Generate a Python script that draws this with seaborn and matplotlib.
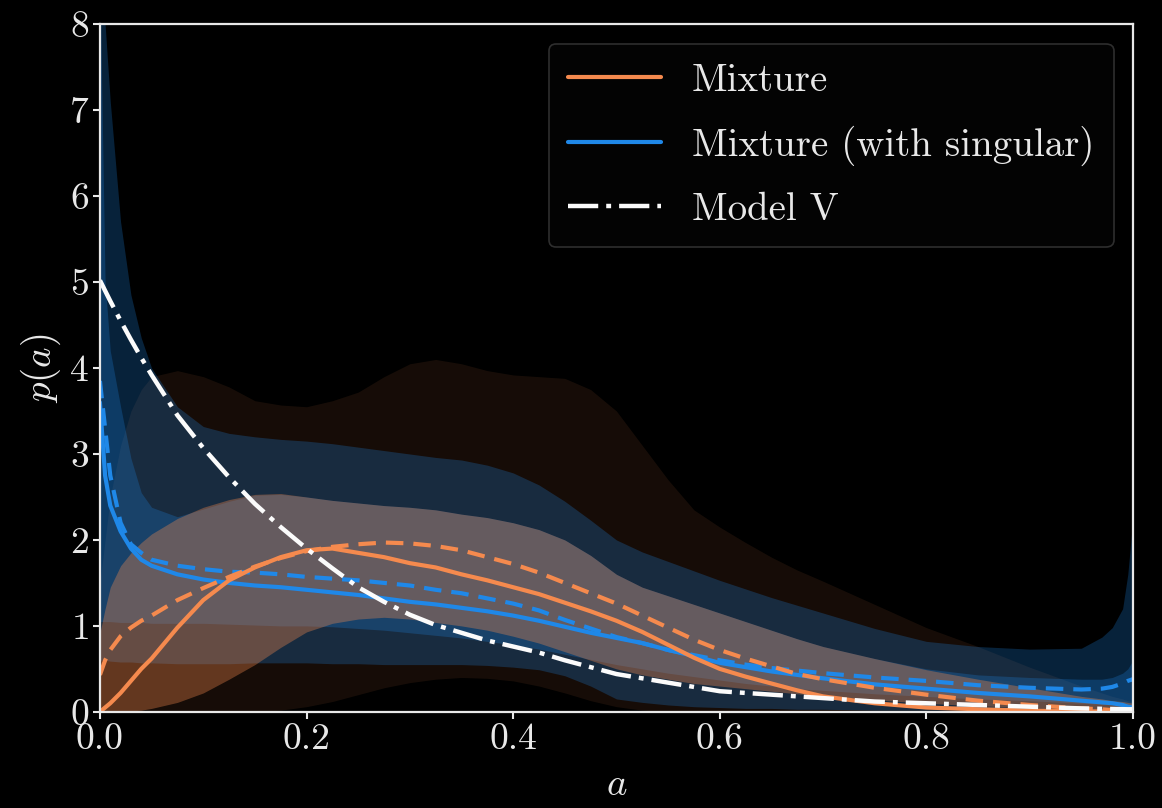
import numpy as np
import matplotlib
matplotlib.use("Agg")
import matplotlib.pyplot as plt
import seaborn as sns

# ---- spin-magnitude grid ----
a_grid = [0.0, 0.005, 0.01, 0.02, 0.03, 0.04, 0.05, 0.075, 0.1, 0.125, 0.15, 0.175,
          0.2, 0.225, 0.25, 0.275, 0.3, 0.325, 0.35, 0.375, 0.4, 0.425, 0.45, 0.475,
          0.5, 0.525, 0.55, 0.575, 0.6, 0.625, 0.65, 0.675, 0.7, 0.75, 0.8, 0.85,
          0.9, 0.95, 0.97, 0.98, 0.99, 0.995, 1.0]

# ---- Mixture ----
mix_median = [0.0, 0.05, 0.1, 0.22, 0.36, 0.5, 0.62, 0.98, 1.3, 1.53, 1.68, 1.8,
              1.88, 1.9, 1.85, 1.8, 1.73, 1.68, 1.6, 1.53, 1.45, 1.37, 1.27, 1.17,
              1.06, 0.93, 0.78, 0.63, 0.5, 0.41, 0.33, 0.25, 0.18, 0.1, 0.05, 0.03,
              0.015, 0.006, 0.004, 0.003, 0.002, 0.002, 0.001]
mix_mean = [0.43, 0.6, 0.72, 0.88, 0.98, 1.06, 1.12, 1.3, 1.44, 1.57, 1.69, 1.79,
            1.87, 1.92, 1.95, 1.97, 1.96, 1.93, 1.88, 1.8, 1.72, 1.62, 1.5, 1.38,
            1.26, 1.12, 0.98, 0.84, 0.72, 0.62, 0.53, 0.44, 0.38, 0.28, 0.2, 0.13,
            0.08, 0.04, 0.03, 0.02, 0.015, 0.012, 0.01]
mix_lo90 = [0.0, 0.0, 0.0, 0.0, 0.0, 0.0, 0.0, 0.0, 0.0, 0.0, 0.0, 0.02,
            0.06, 0.12, 0.2, 0.28, 0.34, 0.38, 0.4, 0.39, 0.36, 0.3, 0.22, 0.13,
            0.06, 0.02, 0.0, 0.0, 0.0, 0.0, 0.0, 0.0, 0.0, 0.0, 0.0, 0.0,
            0.0, 0.0, 0.0, 0.0, 0.0, 0.0, 0.0]
mix_hi90 = [1.5, 2.0, 2.5, 3.1, 3.5, 3.75, 3.9, 3.97, 3.9, 3.78, 3.62, 3.57,
            3.55, 3.62, 3.72, 3.9, 4.05, 4.1, 4.05, 3.97, 3.92, 3.9, 3.88, 3.75,
            3.5, 3.1, 2.7, 2.35, 2.15, 1.97, 1.8, 1.65, 1.52, 1.25, 0.98, 0.76,
            0.52, 0.3, 0.22, 0.18, 0.15, 0.13, 0.12]
mix_lo50 = [0.0, 0.0, 0.0, 0.005, 0.01, 0.02, 0.04, 0.11, 0.22, 0.38, 0.55, 0.75,
            0.93, 1.03, 1.08, 1.1, 1.08, 1.04, 1.0, 0.95, 0.88, 0.8, 0.7, 0.6,
            0.5, 0.43, 0.38, 0.33, 0.3, 0.27, 0.24, 0.21, 0.19, 0.14, 0.1, 0.07,
            0.05, 0.03, 0.025, 0.02, 0.02, 0.02, 0.02]
mix_hi50 = [0.92, 1.2, 1.45, 1.7, 1.85, 1.97, 2.07, 2.25, 2.38, 2.47, 2.53, 2.54,
            2.5, 2.46, 2.43, 2.4, 2.38, 2.35, 2.3, 2.26, 2.2, 2.12, 2.0, 1.82,
            1.6, 1.45, 1.35, 1.25, 1.15, 1.05, 0.95, 0.85, 0.76, 0.62, 0.49, 0.38,
            0.28, 0.18, 0.15, 0.13, 0.12, 0.11, 0.1]

# ---- Mixture (with singular) ----
sing_median = [3.6, 2.75, 2.4, 2.1, 1.9, 1.77, 1.7, 1.6, 1.54, 1.5, 1.47, 1.45,
               1.42, 1.39, 1.36, 1.32, 1.28, 1.25, 1.21, 1.17, 1.12, 1.06, 0.99, 0.92,
               0.86, 0.8, 0.72, 0.65, 0.57, 0.52, 0.47, 0.43, 0.39, 0.32, 0.27, 0.22,
               0.18, 0.13, 0.11, 0.1, 0.08, 0.06, 0.05]
sing_mean = [3.85, 3.3, 2.75, 2.2, 1.95, 1.85, 1.77, 1.7, 1.66, 1.63, 1.62, 1.6,
             1.57, 1.55, 1.53, 1.5, 1.47, 1.42, 1.38, 1.32, 1.26, 1.18, 1.07, 0.97,
             0.87, 0.8, 0.72, 0.66, 0.6, 0.55, 0.51, 0.48, 0.45, 0.4, 0.36, 0.31,
             0.28, 0.26, 0.27, 0.29, 0.33, 0.36, 0.38]
sing_lo90 = [0.6, 0.6, 0.59, 0.58, 0.58, 0.57, 0.57, 0.56, 0.56, 0.56, 0.57, 0.57,
             0.57, 0.56, 0.56, 0.55, 0.55, 0.55, 0.55, 0.54, 0.52, 0.49, 0.42, 0.3,
             0.15, 0.11, 0.08, 0.06, 0.05, 0.04, 0.04, 0.03, 0.03, 0.02, 0.02, 0.02,
             0.02, 0.02, 0.02, 0.02, 0.02, 0.02, 0.02]
sing_hi90 = [9.0, 8.0, 7.1, 5.7, 4.85, 4.35, 4.0, 3.55, 3.32, 3.24, 3.2, 3.17,
             3.15, 3.12, 3.08, 3.04, 3.0, 2.96, 2.93, 2.87, 2.78, 2.64, 2.45, 2.23,
             2.0, 1.86, 1.75, 1.64, 1.53, 1.43, 1.33, 1.24, 1.15, 0.97, 0.82, 0.76,
             0.73, 0.74, 0.87, 0.98, 1.2, 1.6, 2.25]
sing_lo50 = [1.05, 1.05, 1.05, 1.04, 1.04, 1.04, 1.03, 1.03, 1.03, 1.02, 1.01, 1.0,
             1.0, 0.99, 0.97, 0.95, 0.92, 0.89, 0.86, 0.82, 0.78, 0.73, 0.67, 0.61,
             0.55, 0.5, 0.45, 0.41, 0.37, 0.33, 0.3, 0.27, 0.25, 0.21, 0.18, 0.15,
             0.13, 0.1, 0.09, 0.09, 0.08, 0.08, 0.08]
sing_hi50 = [8.5, 5.0, 4.2, 3.55, 2.95, 2.55, 2.38, 2.27, 2.36, 2.45, 2.52, 2.53,
             2.5, 2.46, 2.43, 2.4, 2.38, 2.35, 2.3, 2.26, 2.2, 2.12, 2.0, 1.82,
             1.6, 1.45, 1.35, 1.25, 1.15, 1.05, 0.95, 0.85, 0.76, 0.62, 0.5, 0.43,
             0.4, 0.38, 0.38, 0.4, 0.45, 0.5, 0.6]

# ---- Model V ----
model_v = [5.02, 4.9, 4.78, 4.55, 4.33, 4.12, 3.92, 3.45, 3.07, 2.73, 2.42, 2.15,
           1.9, 1.67, 1.45, 1.28, 1.13, 1.01, 0.92, 0.83, 0.76, 0.69, 0.6, 0.52,
           0.44, 0.39, 0.34, 0.29, 0.24, 0.22, 0.2, 0.18, 0.16, 0.12, 0.1, 0.08,
           0.06, 0.04, 0.035, 0.033, 0.031, 0.03, 0.03]

x_ticks = [0.0, 0.2, 0.4, 0.6, 0.8, 1.0]
x_tick_labels = ["0.0", "0.2", "0.4", "0.6", "0.8", "1.0"]
y_ticks = [0, 1, 2, 3, 4, 5, 6, 7, 8]

ORANGE = "#f58a4e"
BLUE = "#1f88e8"
WHITE = "#fbfbfb"
FG = "#e8e8e8"

sns.set_style("ticks", rc={
    "figure.facecolor": "black",
    "axes.facecolor": "black",
    "axes.edgecolor": FG,
    "axes.labelcolor": FG,
    "xtick.color": FG,
    "ytick.color": FG,
    "text.color": FG,
})
plt.rcParams["font.family"] = ["cmr10", "DejaVu Serif"]
plt.rcParams["mathtext.fontset"] = "cm"
plt.rcParams["axes.unicode_minus"] = False
plt.rcParams["axes.formatter.use_mathtext"] = True

fig, ax = plt.subplots(figsize=(11.62, 8.08), dpi=100)
fig.subplots_adjust(left=0.086, right=0.975, bottom=0.119, top=0.970)

x = np.array(a_grid)

# credible bands
ax.fill_between(x, mix_lo90, mix_hi90, color=ORANGE, alpha=0.09, lw=0)
ax.fill_between(x, sing_lo90, sing_hi90, color=BLUE, alpha=0.25, lw=0)
ax.fill_between(x, sing_lo50, sing_hi50, color=BLUE, alpha=0.25, lw=0)
ax.fill_between(x, mix_lo50, mix_hi50, color=ORANGE, alpha=0.35, lw=0)

lw = 3.0
dashed = (0, (4.2, 2.4))
dashdot = (0, (6.8, 1.8, 1.1, 1.8))
sns.lineplot(x=x, y=sing_mean, ax=ax, color=BLUE, lw=lw, linestyle=dashed)
sns.lineplot(x=x, y=sing_median, ax=ax, color=BLUE, lw=lw,
             label="Mixture (with singular)")
sns.lineplot(x=x, y=mix_mean, ax=ax, color=ORANGE, lw=lw, linestyle=dashed)
sns.lineplot(x=x, y=mix_median, ax=ax, color=ORANGE, lw=lw, label="Mixture")
sns.lineplot(x=x, y=model_v, ax=ax, color=WHITE, lw=3.2, linestyle=dashdot,
             label="Model V")

ax.set_xlim(0, 1)
ax.set_ylim(0, 8)
ax.set_xticks(x_ticks)
ax.set_xticklabels(x_tick_labels)
ax.set_yticks(y_ticks)
ax.tick_params(axis="both", direction="out", length=5, width=1.5,
               labelsize=27, pad=3, colors=FG)
for s in ax.spines.values():
    s.set_linewidth(1.6)
    s.set_color(FG)
ax.set_xlabel("$a$", fontsize=28, labelpad=8)
ax.set_ylabel("$p(a)$", fontsize=28, labelpad=4)

handles, labels = ax.get_legend_handles_labels()
order = [labels.index(n) for n in ["Mixture", "Mixture (with singular)", "Model V"]]
leg = ax.legend([handles[i] for i in order], [labels[i] for i in order],
                loc="upper right", fontsize=28, handlelength=2.4,
                handletextpad=0.78, labelspacing=0.68, borderaxespad=0.5,
                borderpad=0.5, fancybox=True, framealpha=1.0)
leg.get_frame().set_facecolor("#030303")
leg.get_frame().set_edgecolor("#2e2e2e")
leg.get_frame().set_linewidth(1.2)
for t in leg.get_texts():
    t.set_color(FG)

fig.savefig("out.png", dpi=100, facecolor="black")
